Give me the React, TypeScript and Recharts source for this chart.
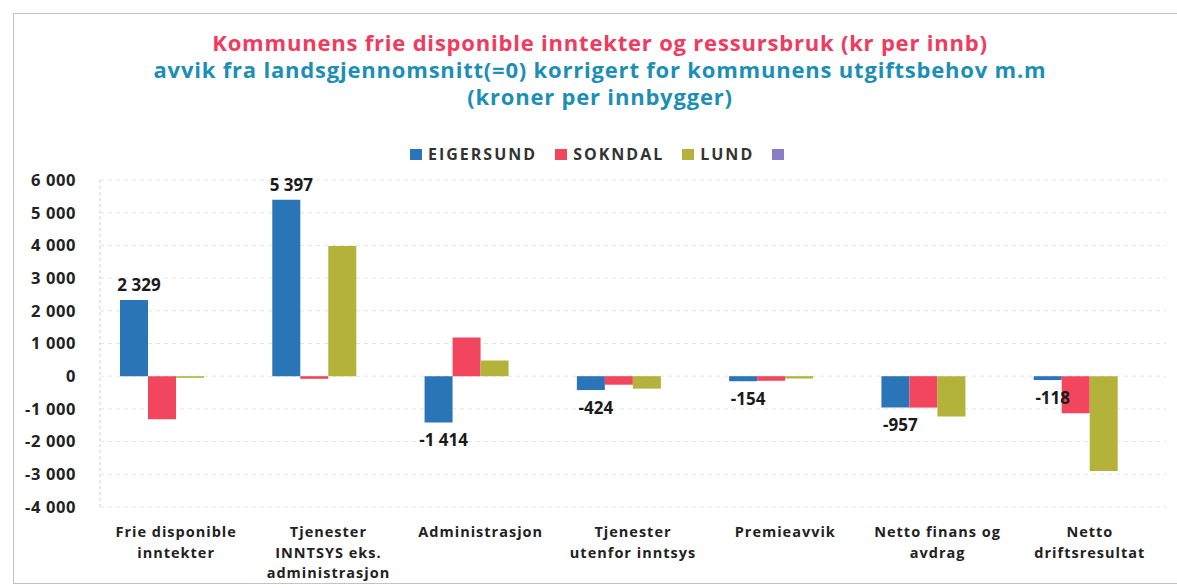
import React from "react";
import { BarChart, Bar, XAxis, YAxis, CartesianGrid, LabelList } from "recharts";

// Avvik fra landsgjennomsnitt, kroner per innbygger (lest av figuren)
const CATEGORIES = [
  "Frie disponible\ninntekter",
  "Tjenester\nINNTSYS eks.\nadministrasjon",
  "Administrasjon",
  "Tjenester\nutenfor inntsys",
  "Premieavvik",
  "Netto finans og\navdrag",
  "Netto\ndriftsresultat",
];
const EIGERSUND = [2329, 5397, -1414, -424, -154, -957, -118];
const SOKNDAL = [-1320, -80, 1180, -260, -140, -960, -1130];
const LUND = [-50, 3980, 480, -380, -70, -1230, -2900];
const EMPTY = [null, null, null, null, null, null, null];

const SERIES = [
  { key: "eigersund", name: "EIGERSUND", color: "#2A74B8" },
  { key: "sokndal", name: "SOKNDAL", color: "#F2455E" },
  { key: "lund", name: "LUND", color: "#B3B23A" },
  { key: "tom", name: "", color: "#8C7CC4" },
];

const Y_TICKS = [-4000, -3000, -2000, -1000, 0, 1000, 2000, 3000, 4000, 5000, 6000];

const data = CATEGORIES.map((c, i) => ({
  cat: c,
  eigersund: EIGERSUND[i],
  sokndal: SOKNDAL[i],
  lund: LUND[i],
  tom: EMPTY[i],
}));

const fmt = (v: number) => {
  const s = Math.abs(v).toString().replace(/\B(?=(\d{3})+(?!\d))/g, " ");
  return (v < 0 ? "-" : "") + s;
};

const FONT = "'Open Sans', 'DejaVu Sans', sans-serif";

function XTick(props: any) {
  const { x, y, payload } = props;
  const lines = String(payload.value).split("\n");
  return (
    <g>
      {lines.map((l, i) => (
        <text
          key={i}
          x={x}
          y={y + 22 + i * 20.5}
          textAnchor="middle"
          fontFamily={FONT}
          fontSize={14.5}
          fontWeight={700}
          letterSpacing={1}
          fill="#222"
        >
          {l}
        </text>
      ))}
    </g>
  );
}

function EndLabel(props: any) {
  const { x, y, width, height, value } = props;
  if (value == null) return null;
  const top = Math.min(y, y + height);
  const bottom = Math.max(y, y + height);
  const ty = value >= 0 ? top - 9 : bottom + 24;
  return (
    <text x={x + width / 2 + 5} y={ty} textAnchor="middle" fontFamily={FONT} fontSize={17} fontWeight={700} fill="#1a1a1a">
      {fmt(value)}
    </text>
  );
}

export default function App() {
  return (
    <div style={{ position: "absolute", left: 0, top: 0, width: 1177, height: 588, background: "#fff", overflow: "hidden" }}>
      <div
        style={{
          position: "absolute",
          left: 13,
          top: 13,
          width: 1200,
          height: 571,
          border: "1.5px solid #c4c4c4",
          boxSizing: "border-box",
        }}
      />
      <div
        style={{
          position: "absolute",
          left: 0,
          top: 29,
          width: 1200,
          textAlign: "center",
          fontFamily: FONT,
          fontWeight: 700,
          fontSize: 22,
          letterSpacing: 0.8,
          lineHeight: "27px",
        }}
      >
        <div style={{ color: "#F23A5E" }}>Kommunens frie disponible inntekter og ressursbruk (kr per innb)</div>
        <div style={{ color: "#1C8FB6" }}>avvik fra landsgjennomsnitt(=0) korrigert for kommunens utgiftsbehov m.m</div>
        <div style={{ color: "#1C8FB6" }}>(kroner per innbygger)</div>
      </div>
      <div
        style={{
          position: "absolute",
          left: 410,
          top: 143,
          display: "flex",
          alignItems: "center",
          fontFamily: FONT,
          fontWeight: 700,
          fontSize: 16,
          letterSpacing: 2,
          color: "#333",
        }}
      >
        {SERIES.map((s) => (
          <div key={s.key} style={{ display: "flex", alignItems: "center", marginRight: 18 }}>
            <span style={{ display: "inline-block", width: 12, height: 11, background: s.color, marginRight: 6 }} />
            <span>{s.name}</span>
          </div>
        ))}
      </div>
      <div style={{ position: "absolute", left: 0, top: 0 }}>
        <BarChart
          width={1177}
          height={588}
          data={data}
          margin={{ top: 180, right: 11, left: 0, bottom: 11 }}
          barGap={0}
          barCategoryGap={20}
        >
          <CartesianGrid vertical={false} stroke="#e4e4e4" strokeDasharray="4 4" />
          <XAxis dataKey="cat" axisLine={false} tickLine={false} height={70} interval={0} tick={<XTick />} />
          <YAxis
            width={100}
            domain={[-4000, 6000]}
            ticks={Y_TICKS}
            tickFormatter={fmt}
            axisLine={{ stroke: "#cfcfcf", strokeDasharray: "3 3" }}
            tickLine={false}
            tickMargin={18}
            tick={{ fontFamily: FONT, fontSize: 16.5, fontWeight: 700, fill: "#222", letterSpacing: 0.6 }}
          />
          {SERIES.map((s) => (
            <Bar key={s.key} dataKey={s.key} name={s.name} fill={s.color} isAnimationActive={false}>
              {s.key === "eigersund" && <LabelList dataKey="eigersund" content={<EndLabel />} />}
            </Bar>
          ))}
        </BarChart>
      </div>
    </div>
  );
}
